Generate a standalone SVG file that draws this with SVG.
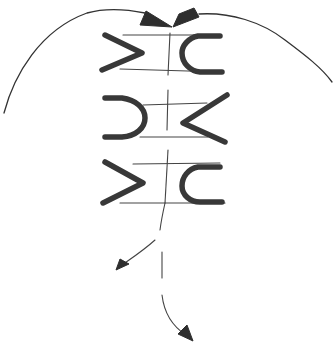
<svg xmlns="http://www.w3.org/2000/svg" width="335" height="348" viewBox="0 0 335 348">
<style>
.thin{fill:none;stroke:#444;stroke-width:1.1;stroke-linecap:round}
.curve{fill:none;stroke:#333;stroke-width:1.3;stroke-linecap:round}
.thick{fill:none;stroke:#383838;stroke-width:5.5;stroke-linecap:round;stroke-linejoin:round}
.head{fill:#2e2e2e;stroke:#2e2e2e;stroke-width:1;stroke-linejoin:round}
</style>
<rect width="335" height="348" fill="#fff"/>
<g id="connectors">
<path class="curve" d="M4,113 C14,75 40,30 87,13 C105,8 125,9 145,13"/>
<polygon class="head" points="140,25 146,11 172,27"/>
<path class="curve" d="M199,14 C230,12 262,22 285,40 C305,55 322,68 332,82"/>
<polygon class="head" points="173,27 179,14 194,8 199,17"/>
<path class="thin" d="M165,203 C163,212 161,222 160,230"/>
<path class="thin" d="M162,252 L162,278"/>
<path class="thin" d="M162,295 C164,312 172,326 186,335"/>
<polygon class="head" points="193,341 178,334 187,325"/>
<path class="thin" d="M155,240 C144,250 132,258 122,265"/>
<polygon class="head" points="116,270 120,259 129,264"/>
</g>
<g id="unit1">
<path class="thick" d="M105,35 L142,53 L102,70"/>
<path class="thin" d="M123,35 L220,35"/>
<path class="thin" d="M120,69 L222,72"/>
<path class="thin" d="M170,33 L168,75"/>
<path class="thick" d="M220,36 L198,36 C188,38 182,46 182,53 C182,63 190,71 200,72 L222,72"/>
</g>
<g id="unit2">
<path class="thick" d="M105,98 L122,98 C136,100 145,108 145,118 C145,128 136,136 122,137 L105,137"/>
<path class="thin" d="M143,105 L207,103"/>
<path class="thin" d="M140,137 L208,137"/>
<path class="thin" d="M168,90 L167,130"/>
<path class="thick" d="M227,95 L183,123 L225,142"/>
</g>
<g id="unit3">
<path class="thick" d="M105,162 L143,183 L103,203"/>
<path class="thin" d="M133,164 L220,163"/>
<path class="thin" d="M120,203 L225,203"/>
<path class="thin" d="M168,150 L165,203"/>
<path class="thick" d="M220,167 L198,167 C188,169 182,177 182,186 C182,195 190,202 200,202 L222,202"/>
</g>
</svg>
